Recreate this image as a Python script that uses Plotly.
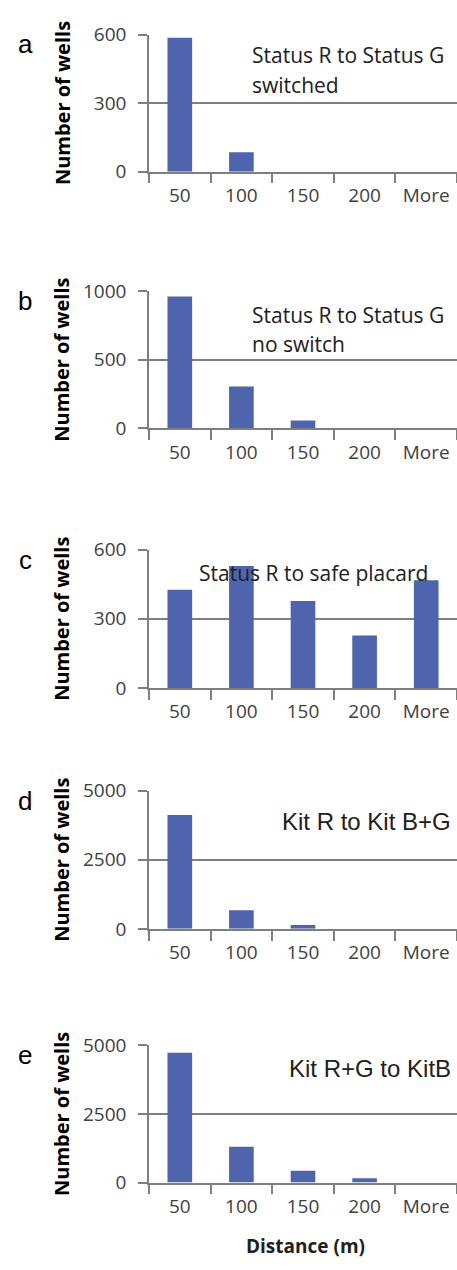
import plotly.graph_objects as go

categories = ["50", "100", "150", "200", "More"]

counts_a = [586, 85, 0, 0, 0]
counts_b = [962, 305, 57, 0, 0]
counts_c = [426, 529, 377, 228, 468]
counts_d = [4122, 675, 142, 0, 0]
counts_e = [4737, 1304, 426, 153, 0]

ymax = [600, 1000, 600, 5000, 5000]
ytick_vals = [[0, 300, 600], [0, 500, 1000], [0, 300, 600], [0, 2500, 5000], [0, 2500, 5000]]
panel_letters = ["a", "b", "c", "d", "e"]
panel_title_lines = [["Status R to Status G", "switched"],
                     ["Status R to Status G", "no switch"],
                     ["Status R to safe placard"],
                     ["Kit R to Kit B+G"],
                     ["Kit R+G to KitB"]]
y_title = "Number of wells"
x_title = "Distance (m)"

series = [counts_a, counts_b, counts_c, counts_d, counts_e]

W, H = 457, 1270
# pixel positions of top/bottom of each plot area
tops = [22, 284, 548, 794, 1054]
bottoms = [162, 424, 689, 935, 1194]
x_left = 149

BAR = "#4E64AC"
LINE = "#7F7F7F"
TXT = "#404040"
TICKFONT = dict(family="Open Sans", size=19, color=TXT)

fig = go.Figure()
annotations = []
for i, vals in enumerate(series):
    n = i + 1
    xa = "x" if n == 1 else f"x{n}"
    ya = "y" if n == 1 else f"y{n}"
    fig.add_trace(go.Bar(x=categories, y=vals, xaxis=xa, yaxis=ya,
                         marker=dict(color=BAR, line=dict(width=0)),
                         showlegend=False))
    dom_y = [1 - bottoms[i] / H, 1 - tops[i] / H]
    xkey = "xaxis" if n == 1 else f"xaxis{n}"
    ykey = "yaxis" if n == 1 else f"yaxis{n}"
    fig.update_layout(**{
        xkey: dict(domain=[x_left / W, 1.0], anchor=ya, type="category",
                   range=[-0.5, 4.5], tickson="boundaries", ticks="outside",
                   ticklen=10, tickcolor=LINE, tickwidth=1.5,
                   showline=True, linecolor=LINE, linewidth=1.5,
                   showgrid=False, ticklabelstandoff=6,
                   tickfont=TICKFONT),
        ykey: dict(domain=dom_y, anchor=xa, range=[0, ymax[i]],
                   tickvals=ytick_vals[i], ticks="outside", ticklen=9,
                   tickcolor=LINE, tickwidth=1.5, showline=True,
                   linecolor=LINE, linewidth=1.5, showgrid=True,
                   gridcolor=LINE, gridwidth=1.5, zeroline=False,
                   ticklabelstandoff=8,
                   tickfont=TICKFONT),
    })
    # panel letter
    annotations.append(dict(text=panel_letters[i], xref="paper", yref="paper",
                            x=25 / W, y=1 - (tops[i] + 10) / H, showarrow=False,
                            xanchor="center", yanchor="middle",
                            font=dict(family="Liberation Sans", size=26, color="black")))
    # y title
    annotations.append(dict(text=f"<b>{y_title}</b>", xref="paper", yref="paper",
                            x=62 / W, y=1 - (tops[i] + bottoms[i]) / 2 / H,
                            showarrow=False, textangle=-90,
                            xanchor="center", yanchor="middle",
                            font=dict(family="Open Sans", size=20, color="black")))

# panel titles inside plots: (x px, first line y px, anchor, font family, size)
title_pos = [(250, 43, "left", "Open Sans", 21), (250, 308, "left", "Open Sans", 21),
             (197, 572, "left", "Open Sans", 21), (453, 825, "right", "Liberation Sans", 24),
             (453, 1078, "right", "Liberation Sans", 24)]
for i, (px, py, anc, fam, sz) in enumerate(title_pos):
    for j, line in enumerate(panel_title_lines[i]):
        annotations.append(dict(text=line, xref="paper", yref="paper",
                                x=px / W, y=1 - (py + 30 * j) / H, showarrow=False,
                                xanchor=anc, yanchor="middle",
                                font=dict(family=fam, size=sz, color="#202020")))

annotations.append(dict(text=f"<b>{x_title}</b>", xref="paper", yref="paper",
                        x=305 / W, y=1 - 1259 / H, showarrow=False,
                        xanchor="center", yanchor="middle",
                        font=dict(family="Open Sans", size=19, color="#202020")))

fig.update_layout(width=W, height=H, margin=dict(l=0, r=0, t=0, b=0),
                  paper_bgcolor="white", plot_bgcolor="white",
                  bargap=0.6, annotations=annotations)

fig.write_html("out.html")
